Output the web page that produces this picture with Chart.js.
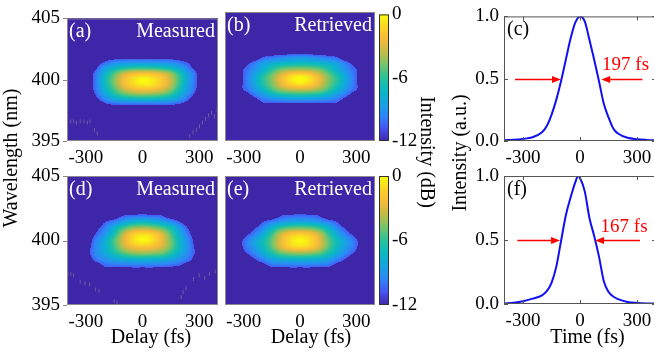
<!DOCTYPE html>
<html><head><meta charset="utf-8">
<script src="https://cdn.jsdelivr.net/npm/chart.js@4.4.1/dist/chart.umd.min.js"></script>
<style>
html,body{margin:0;padding:0;background:#fff;}
body{width:654px;height:354px;overflow:hidden;position:relative;}
.w{position:absolute;left:0;top:0;width:700px;height:354px;}
canvas{display:block;}
</style></head><body>
<div class="w"><canvas id="cA" width="700" height="354"></canvas></div>
<div class="w"><canvas id="cB" width="700" height="354"></canvas></div>
<div class="w"><canvas id="cBar1" width="700" height="354"></canvas></div>
<div class="w"><canvas id="cC" width="700" height="354"></canvas></div>
<div class="w"><canvas id="cD" width="700" height="354"></canvas></div>
<div class="w"><canvas id="cE" width="700" height="354"></canvas></div>
<div class="w"><canvas id="cBar2" width="700" height="354"></canvas></div>
<div class="w"><canvas id="cF" width="700" height="354"></canvas></div>
<script>
// ---------------- data ----------------
const delayTicks = [-300, 0, 300];
const wavelengthTicks = [395, 400, 405];
const dbTicks = [-12, -6, 0];
const intensityTicks = [0, 0.5, 1];

// FROG trace grid: columns = delay (fs), rows = wavelength (nm), values in dB (floor -12)
const delayFs = [-300, -250, -200, -150, -100, -50, 0, 50, 100, 150, 200, 250, 300];
const wavelengthNm = [402, 401.5, 401, 400.5, 400, 399.5, 399, 398.5, 398];

const measuredA = [
  [-12, -12, -12, -12, -12, -12, -12, -12, -12, -12, -12, -12, -12],
  [-12, -11.8, -10.7, -9.9, -9.6, -9.5, -9.5, -9.5, -9.6, -9.8, -10.4, -11, -12],
  [-12, -11, -8.9, -7.6, -6.8, -6.4, -6.3, -6.4, -6.8, -7.4, -8.5, -10.2, -11.5],
  [-12, -10.1, -7.6, -5.4, -3.4, -2.3, -2, -2.2, -2.9, -4.2, -6.6, -9, -11],
  [-12, -10, -7, -4.6, -2.3, -0.9, 0, -0.5, -1.6, -3.4, -6, -8.8, -11],
  [-12, -10, -7.3, -4.9, -2.7, -1.4, -0.8, -1, -2, -3.8, -6.4, -9, -11],
  [-12, -10.3, -8, -6, -4.4, -3.5, -3.2, -3.4, -3.9, -5.2, -7.4, -9.4, -11.3],
  [-12, -11, -9.2, -7.8, -7, -6.6, -6.5, -6.6, -6.9, -7.5, -8.6, -10.5, -12],
  [-12, -12, -10.9, -10.4, -10.2, -10.2, -10.2, -10.2, -10.2, -10.3, -10.8, -11.5, -12]
];
const retrievedB = [
  [-12, -12, -12, -12, -12, -12, -12, -12, -12, -12, -12, -12, -12],
  [-12, -12, -10.6, -10.1, -9.7, -9.3, -9.1, -9.3, -9.7, -10.1, -10.6, -12, -12],
  [-11.2, -10, -8.6, -7.8, -7.3, -7, -6.9, -7, -7.3, -7.8, -8.6, -10, -11.2],
  [-10.5, -9.3, -7.8, -6, -4.6, -3.9, -3.7, -3.9, -4.6, -6, -7.8, -9.3, -10.5],
  [-10.4, -8.6, -6.4, -4.6, -2.6, -1, -0.3, -1, -2.6, -4.6, -6.4, -8.6, -10.4],
  [-10.4, -8.6, -6.4, -4.6, -2.6, -1.1, -0.4, -1.1, -2.6, -4.6, -6.4, -8.6, -10.4],
  [-10.5, -9.2, -7.4, -5.6, -4.2, -3.5, -3.3, -3.5, -4.2, -5.6, -7.4, -9.2, -10.5],
  [-12, -10.4, -9.2, -8, -7.3, -7, -6.9, -7, -7.3, -8, -9.2, -10.4, -12],
  [-12, -12, -10.6, -10.4, -10.3, -10.2, -10.2, -10.2, -10.3, -10.4, -10.6, -12, -12]
];
const measuredD = [
  [-12, -12, -12, -12, -10.8, -10.6, -10.5, -10.6, -10.8, -12, -12, -12, -12],
  [-12, -12, -10.8, -10, -8.8, -7.9, -7.6, -7.9, -8.6, -9.6, -10.8, -12, -12],
  [-12, -11.2, -9.8, -7.8, -5.8, -4.5, -4.1, -4.5, -5.4, -6.9, -9, -11, -12],
  [-12, -10.6, -9, -6.6, -3.6, -1.6, -1, -1.4, -2.9, -5.4, -8.2, -10.4, -12],
  [-12, -9.8, -8, -5.5, -3, -1, -0.1, -0.8, -2.5, -4.8, -7.5, -9.8, -12],
  [-11.5, -9.6, -7.8, -5.8, -3.6, -2.3, -1.9, -2.2, -3.1, -4.9, -7.4, -9.6, -11.5],
  [-11.2, -9.6, -8.2, -6.7, -5.4, -4.6, -4.4, -4.6, -5, -6.3, -8.1, -9.8, -11.2],
  [-12, -10.2, -9.3, -8.5, -8, -7.8, -7.7, -7.8, -8, -8.5, -9.3, -10.3, -12],
  [-12, -12, -10.5, -10.4, -10.3, -10.2, -10.2, -10.2, -10.3, -10.5, -10.8, -12, -12]
];
const retrievedE = [
  [-12, -12, -12, -12, -10.8, -10.6, -10.5, -10.6, -10.8, -12, -12, -12, -12],
  [-12, -12, -10.8, -10, -9.2, -8.7, -8.5, -8.7, -9.2, -10, -10.8, -12, -12],
  [-12, -11, -9.6, -7.6, -6, -5.2, -5, -5.2, -6, -7.6, -9.6, -11, -12],
  [-11.2, -10, -8.2, -5.8, -3.3, -1.9, -1.5, -1.9, -3.3, -5.8, -8.2, -10, -11.2],
  [-10.4, -8.8, -7, -5, -2.6, -0.9, -0.1, -0.9, -2.6, -5, -7, -8.8, -10.4],
  [-10.4, -8.9, -7.2, -5.2, -2.9, -1.5, -1, -1.5, -2.9, -5.2, -7.2, -8.9, -10.4],
  [-11, -9.8, -8.2, -6.5, -5.2, -4.6, -4.4, -4.6, -5.2, -6.5, -8.2, -9.8, -11],
  [-12, -11, -9.8, -8.6, -8, -7.8, -7.7, -7.8, -8, -8.6, -9.8, -11, -12],
  [-12, -12, -11.4, -10.4, -10.3, -10.2, -10.2, -10.2, -10.3, -10.4, -11.4, -12, -12]
];

// isolated noise specks visible in the measured traces [delay fs, wavelength nm]
const noiseA = [[-380, 396.6], [-365, 396.6], [-350, 396.5], [-330, 396.6], [-310, 396.6], [-292, 396.5], [-278, 396.6], [-255, 395.9], [-240, 395.6],
  [250, 395.4], [268, 395.7], [285, 395.9], [302, 396.2], [318, 396.5], [335, 396.8], [350, 397.1], [366, 397.3], [382, 397.0], [395, 397.5]];
const noiseD = [[-395, 397.4], [-380, 397.4], [-365, 397.3], [-330, 396.8], [-305, 396.7], [-280, 396.6], [-250, 396.2], [-230, 396.1], [-150, 395.3], [-135, 395.2],
  [205, 395.6], [215, 396.0], [230, 396.3], [270, 397.0], [300, 397.3], [330, 397.1], [355, 397.4], [385, 397.6]];

// temporal intensity profiles
const timeC = [-400, -350, -300, -250, -200, -175, -150, -125, -100, -75, -50, -25, 0, 25, 50, 75, 100, 125, 150, 175, 200, 250, 300, 350, 400];
const intensityC = [0.006, 0.01, 0.017, 0.03, 0.07, 0.12, 0.21, 0.33, 0.48, 0.65, 0.82, 0.95, 1.0, 0.96, 0.81, 0.65, 0.48, 0.3, 0.19, 0.1, 0.06, 0.026, 0.015, 0.009, 0.005];
const timeF = [-400, -350, -300, -250, -200, -175, -150, -125, -100, -75, -50, -25, -10, 0, 25, 50, 75, 100, 125, 150, 175, 200, 250, 300, 350, 400];
const intensityF = [0.003, 0.01, 0.022, 0.042, 0.068, 0.1, 0.165, 0.29, 0.49, 0.69, 0.83, 0.95, 1.0, 0.985, 0.88, 0.67, 0.53, 0.37, 0.18, 0.095, 0.058, 0.038, 0.016, 0.008, 0.004, 0.003];

const fwhmLabelC = '197 fs';
const fwhmLabelF = '167 fs';
const arrowsC = [[-342, -100], [328, 112]];   // [from, tip] in fs, at half maximum
const arrowsF = [[-330, -105], [316, 79]];

// ---------------- rendering ----------------
const FONT = "'Liberation Serif','Times New Roman',Times,serif";
Chart.defaults.font.family = FONT;
Chart.defaults.color = '#000';

const STOPS = [[0,62,38,168],[0.1,72,82,244],[0.2,46,135,247],[0.3,21,164,225],[0.4,10,184,195],[0.5,40,194,156],[0.6,115,197,107],[0.7,190,188,72],[0.8,246,186,58],[0.9,250,212,40],[1,249,251,14]];
function cmap(v) {
  let t = (v + 12) / 12; t = Math.max(0, Math.min(1, t));
  for (let i = 1; i < STOPS.length; i++) {
    if (t <= STOPS[i][0]) {
      const a = STOPS[i-1], b = STOPS[i], f = (t - a[0]) / (b[0] - a[0]);
      return [0,1,2].map(k => Math.round(a[k+1] + (b[k+1] - a[k+1]) * f));
    }
  }
  return STOPS[STOPS.length-1].slice(1);
}

// shades each screen pixel of the plot area from the grid cells (Catmull-Rom shading)
function cr(p0, p1, p2, p3, t) {
  return 0.5 * ((2 * p1) + (-p0 + p2) * t + (2 * p0 - 5 * p1 + 4 * p2 - p3) * t * t + (-p0 + 3 * p1 - 3 * p2 + p3) * t * t * t);
}
const heatPlugin = {
  id: 'heat',
  beforeDatasetsDraw(chart, args, o) {
    if (!o || !o.grid) return;
    const {ctx, chartArea: a, scales: {x, y}} = chart;
    const nr = o.rows.length, nc = o.cols.length;
    const get = (r, c) => (r < 0 || c < 0 || r >= nr || c >= nc) ? -12 : o.grid[r][c];
    const dx = o.cols[1] - o.cols[0], dy = o.rows[0] - o.rows[1];
    const L = Math.round(a.left), T = Math.round(a.top), Wd = Math.round(a.right) - L, Ht = Math.round(a.bottom) - T;
    const off = document.createElement('canvas'); off.width = Wd; off.height = Ht;
    const oc = off.getContext('2d'); const img = oc.createImageData(Wd, Ht);
    for (let j = 0; j < Ht; j++) {
      const lam = y.getValueForPixel(T + j + 0.5);
      const fr = (o.rows[0] - lam) / dy, r0 = Math.floor(fr), tr = fr - r0;
      for (let i = 0; i < Wd; i++) {
        const d = x.getValueForPixel(L + i + 0.5);
        const fc = (d - o.cols[0]) / dx, c0 = Math.floor(fc), tc = fc - c0;
        const rowv = [];
        for (let k = -1; k <= 2; k++) rowv.push(cr(get(r0 + k, c0 - 1), get(r0 + k, c0), get(r0 + k, c0 + 1), get(r0 + k, c0 + 2), tc));
        let v = cr(rowv[0], rowv[1], rowv[2], rowv[3], tr);
        if (v < o.floorAt) v = -12;
        const col = cmap(v), p = (j * Wd + i) * 4;
        img.data[p] = col[0]; img.data[p+1] = col[1]; img.data[p+2] = col[2]; img.data[p+3] = 255;
      }
    }
    oc.putImageData(img, 0, 0);
    ctx.drawImage(off, L, T);
  }
};

const cbarPlugin = {
  id: 'cbar',
  beforeDatasetsDraw(chart, args, o) {
    if (!o || !o.on) return;
    const {ctx, chartArea: a, scales: {y}} = chart;
    const g = ctx.createLinearGradient(0, y.getPixelForValue(dbTicks[0]), 0, y.getPixelForValue(dbTicks[2]));
    STOPS.forEach(s => g.addColorStop(s[0], `rgb(${s[1]},${s[2]},${s[3]})`));
    ctx.save(); ctx.fillStyle = g; ctx.fillRect(a.left, a.top, a.width, a.height); ctx.restore();
  }
};

const framePlugin = {
  id: 'frame',
  afterDraw(chart, args, o) {
    if (!o || !o.color) return;
    const {ctx, chartArea: a, scales} = chart;
    ctx.save();
    ctx.strokeStyle = o.color; ctx.lineWidth = 1;
    ctx.strokeRect(a.left + 0.5, a.top + 0.5, a.width - 1, a.height - 1);
    const L = 4;
    ctx.beginPath();
    if (o.ticks === 'in') {
      scales.x.ticks.forEach(t => {
        const px = Math.round(scales.x.getPixelForValue(t.value)) + 0.5;
        ctx.moveTo(px, a.bottom); ctx.lineTo(px, a.bottom - L);
        ctx.moveTo(px, a.top); ctx.lineTo(px, a.top + L);
      });
      scales.y.ticks.forEach(t => {
        const py = Math.round(scales.y.getPixelForValue(t.value)) + 0.5;
        ctx.moveTo(a.left, py); ctx.lineTo(a.left + L, py);
        ctx.moveTo(a.right, py); ctx.lineTo(a.right - L, py);
      });
    } else if (o.ticks === 'out') {
      scales.y.ticks.forEach(t => {
        const py = Math.round(scales.y.getPixelForValue(t.value)) + 0.5;
        ctx.moveTo(a.left, py); ctx.lineTo(a.left - L, py);
      });
    }
    ctx.stroke();
    ctx.restore();
  }
};

const decoPlugin = {
  id: 'deco',
  afterDraw(chart, args, o) {
    if (!o) return;
    const {ctx, chartArea: a, scales} = chart;
    ctx.save();
    (o.arrows || []).forEach(([from, tip]) => {
      const y = Math.round(scales.y.getPixelForValue(0.5)) + 0.5;
      const xf = scales.x.getPixelForValue(from), xt = scales.x.getPixelForValue(tip);
      const dir = Math.sign(xt - xf), hl = 9, hw = 3.5;
      ctx.strokeStyle = '#ff0000'; ctx.fillStyle = '#ff0000'; ctx.lineWidth = 1.6;
      ctx.beginPath(); ctx.moveTo(xf, y); ctx.lineTo(xt - dir * hl, y); ctx.stroke();
      ctx.beginPath(); ctx.moveTo(xt, y); ctx.lineTo(xt - dir * hl, y - hw); ctx.lineTo(xt - dir * hl, y + hw); ctx.closePath(); ctx.fill();
    });
    (o.texts || []).forEach(t => {
      let x = t.x, y = t.y;
      if (t.data) { x = scales.x.getPixelForValue(t.x); y = scales.y.getPixelForValue(t.y); }
      else if (t.rel === 'tl') { x = a.left + t.x; y = a.top + t.y; }
      else if (t.rel === 'tr') { x = a.right + t.x; y = a.top + t.y; }
      ctx.font = `${t.size || 20}px ${FONT}`;
      ctx.fillStyle = t.color || '#000';
      ctx.textAlign = t.align || 'left';
      ctx.textBaseline = t.baseline || 'alphabetic';
      ctx.save(); ctx.translate(x, y); if (t.rot) ctx.rotate(t.rot);
      ctx.fillText(t.text, 0, 0); ctx.restore();
    });
    ctx.restore();
  }
};

const CW = 700, CH = 354, YW = 50, XH = 40;
function xScale(min, max, ticks, fmt, pad) {
  return {type: 'linear', min, max,
    afterBuildTicks: s => { s.ticks = ticks.map(v => ({value: v})); },
    afterFit: s => { s.height = XH; },
    grid: {display: false, drawTicks: false}, border: {display: false},
    ticks: {padding: pad, font: {size: 19, family: FONT}, color: '#000', maxRotation: 0, minRotation: 0, autoSkip: false, callback: fmt}};
}
function yScale(min, max, ticks, fmt, pad, pos, show) {
  return {type: 'linear', min, max, position: pos || 'left',
    afterBuildTicks: s => { s.ticks = ticks.map(v => ({value: v})); },
    afterFit: s => { s.width = YW; },
    grid: {display: false, drawTicks: false}, border: {display: false},
    ticks: {display: show !== false, padding: pad, font: {size: 19, family: FONT}, color: '#000', autoSkip: false, callback: fmt}};
}
const intFmt = v => String(v);
const decFmt = v => Number(v).toFixed(1);

function baseOpts(area, yRight, noX) {
  return {
    responsive: false, animation: false, devicePixelRatio: 1, events: [],
    layout: {autoPadding: false, padding: {
      left: yRight ? area.left : area.left - YW,
      top: area.top,
      right: yRight ? CW - area.right - YW : CW - area.right,
      bottom: noX ? CH - area.bottom : CH - area.bottom - XH}},
    plugins: {legend: {display: false}, tooltip: {enabled: false}}
  };
}

function heatChart(id, area, grid, noise, tag, name, showY, extraTexts) {
  const opts = baseOpts(area, false, false);
  opts.scales = {x: xScale(-400, 400, delayTicks, intFmt, 6), y: yScale(395, 405, wavelengthTicks, intFmt, 7, 'left', showY)};
  opts.plugins.heat = {grid, cols: delayFs, rows: wavelengthNm, floorAt: -10.6};
  opts.plugins.frame = {color: '#8a8a8a', ticks: showY ? 'out' : 'none'};
  opts.plugins.deco = {texts: [
    {text: tag, rel: 'tl', x: 2, y: 19, color: '#ffffff'},
    {text: name, rel: 'tr', x: -3, y: 19, color: '#ffffff', align: 'right'}
  ].concat(extraTexts || [])};
  const datasets = noise ? [{data: noise.map(p => ({x: p[0], y: p[1]})), pointStyle: 'line', rotation: 90, pointRadius: 2,
    borderColor: 'rgba(140,140,150,0.55)', borderWidth: 1, showLine: false}] : [];
  return new Chart(document.getElementById(id), {type: 'scatter', data: {datasets}, options: opts, plugins: [heatPlugin, framePlugin, decoPlugin]});
}

function barChart(id, area, extraTexts) {
  const opts = baseOpts(area, true, true);
  opts.scales = {x: {type: 'linear', display: false, min: 0, max: 1}, y: yScale(-12, 0, dbTicks, intFmt, 3, 'right')};
  opts.plugins.cbar = {on: true};
  opts.plugins.frame = {color: '#333333', ticks: 'none'};
  opts.plugins.deco = {texts: extraTexts || []};
  return new Chart(document.getElementById(id), {type: 'scatter', data: {datasets: []}, options: opts, plugins: [cbarPlugin, framePlugin, decoPlugin]});
}

function lineChart(id, area, times, vals, tag, label, labelAt, arrows, extraTexts) {
  const opts = baseOpts(area, false, false);
  opts.scales = {x: xScale(-400, 400, delayTicks, intFmt, 6), y: yScale(0, 1, intensityTicks, decFmt, 5)};
  opts.plugins.frame = {color: '#555555', ticks: 'in'};
  opts.plugins.deco = {arrows, texts: [
    {text: tag, rel: 'tl', x: 3, y: 19, color: '#000'},
    {text: label, data: true, x: labelAt[0], y: labelAt[1], color: '#ff0000', align: 'center', size: 19}
  ].concat(extraTexts || [])};
  return new Chart(document.getElementById(id), {
    type: 'line',
    data: {datasets: [{data: times.map((t, i) => ({x: t, y: vals[i]})), borderColor: '#1010f0', borderWidth: 2, pointRadius: 0, cubicInterpolationMode: 'monotone', fill: false}]},
    options: opts, plugins: [framePlugin, decoPlugin]});
}

const titleY = 342.5;
heatChart('cA', {left: 67, top: 12, right: 218, bottom: 141}, measuredA, noiseA, '(a)', 'Measured', true,
  [{text: 'Wavelength (nm)', x: 12, y: 158, rot: -Math.PI / 2, align: 'center', baseline: 'middle'}]);
heatChart('cB', {left: 225, top: 12, right: 375, bottom: 141}, retrievedB, null, '(b)', 'Retrieved', false);
barChart('cBar1', {left: 379, top: 13, right: 389, bottom: 141},
  [{text: 'Intensity (dB)', x: 426, y: 152, rot: Math.PI / 2, align: 'center', baseline: 'middle'}]);
lineChart('cC', {left: 504, top: 13, right: 656, bottom: 141}, timeC, intensityC, '(c)', fwhmLabelC, [240, 0.568], arrowsC,
  [{text: 'Intensity (a.u.)', x: 461, y: 153, rot: -Math.PI / 2, align: 'center', baseline: 'middle'}]);
heatChart('cD', {left: 67, top: 176, right: 218, bottom: 305}, measuredD, noiseD, '(d)', 'Measured', true,
  [{text: 'Delay (fs)', x: 151, y: titleY, align: 'center'}]);
heatChart('cE', {left: 225, top: 176, right: 375, bottom: 305}, retrievedE, null, '(e)', 'Retrieved', false,
  [{text: 'Delay (fs)', x: 311, y: titleY, align: 'center'}]);
barChart('cBar2', {left: 379, top: 176, right: 389, bottom: 305});
lineChart('cF', {left: 504, top: 176, right: 656, bottom: 304}, timeF, intensityF, '(f)', fwhmLabelF, [232, 0.565], arrowsF,
  [{text: 'Time (fs)', x: 587.5, y: titleY, align: 'center'}]);
</script>
</body></html>
